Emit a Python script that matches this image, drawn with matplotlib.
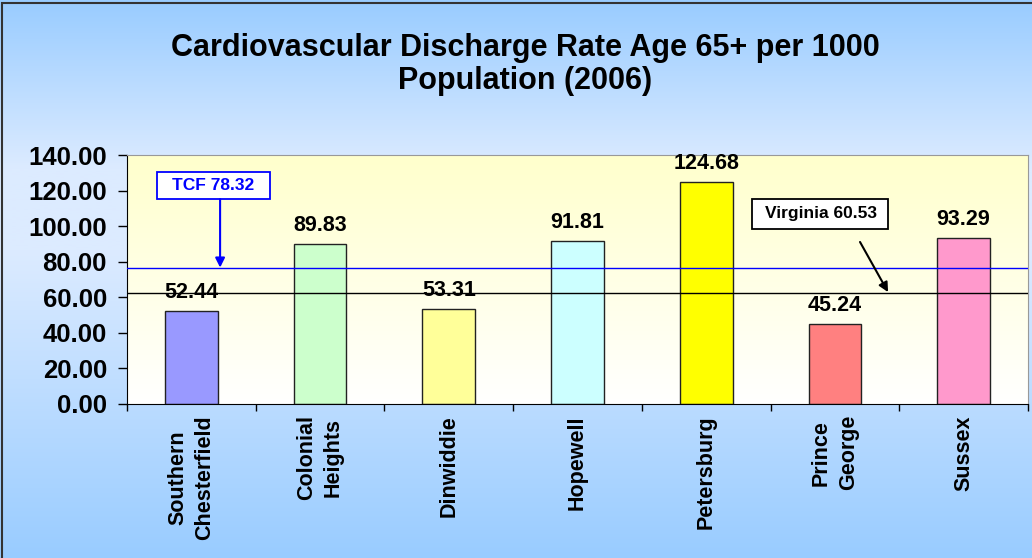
import matplotlib.pyplot as plt
import numpy as np
from matplotlib.colors import LinearSegmentedColormap
from matplotlib.patches import Rectangle

# Data
categories = ['Southern\nChesterfield', 'Colonial\nHeights', 'Dinwiddie', 'Hopewell',
              'Petersburg', 'Prince\nGeorge', 'Sussex']
rates = [52.44, 89.83, 53.31, 91.81, 124.68, 45.24, 93.29]
bar_colors = ['#9999ff', '#ccffcc', '#ffff99', '#ccffff', '#ffff00', '#ff8080', '#ff99cc']
tcf_line = 76.7
va_line = 62.6
tcf_label = 'TCF 78.32'
va_label = 'Virginia 60.53'
yticks = [0, 20, 40, 60, 80, 100, 120, 140]

fig = plt.figure(figsize=(10.32, 5.58), dpi=100)

# figure background gradient
bg = fig.add_axes([0, 0, 1, 1], zorder=-10)
bg_cmap = LinearSegmentedColormap.from_list(
    'bg', [(0.0, '#99ccff'), (0.30, '#dcebff'), (0.45, '#dcebff'), (1.0, '#99ccff')])
bg.imshow(np.linspace(0, 1, 256).reshape(-1, 1), aspect='auto', cmap=bg_cmap,
          extent=[0, 1, 0, 1], origin='upper')
bg.set_axis_off()
fig.patches.append(Rectangle((0.002, -0.01), 1.1, 1.004, transform=fig.transFigure,
                             fill=False, edgecolor='#333333', linewidth=1.5))

ax = fig.add_axes([0.1231, 0.276, 0.8730, 0.4462])
x = np.arange(len(categories))

# plot area gradient
ax_cmap = LinearSegmentedColormap.from_list('pa', ['#ffffcc', '#ffffff'])
ax.imshow(np.linspace(0, 1, 256).reshape(-1, 1), aspect='auto', cmap=ax_cmap,
          extent=[-0.5, len(categories) - 0.5, 0, 140], origin='upper', zorder=0)

ax.bar(x, rates, width=0.41, color=bar_colors, edgecolor='#222222', linewidth=1, zorder=2)
for xi, v in zip(x, rates):
    ax.text(xi, v + 4.5, f'{v:.2f}', ha='center', va='bottom', fontsize=15.5,
            fontweight='bold', family='Liberation Sans', zorder=4)

ax.axhline(tcf_line, color='#0000ff', linewidth=1, zorder=3)
ax.axhline(va_line, color='black', linewidth=1, zorder=3)

ax.set_xlim(-0.5, len(categories) - 0.5)
ax.set_ylim(0, 140)
ax.set_yticks(yticks)
ax.set_yticklabels([f'{t:.2f}' for t in yticks], fontsize=18.5, fontweight='bold',
                   family='Liberation Sans')
ax.set_xticks(x)
ax.set_xticklabels(categories, rotation=90, fontsize=15.5, fontweight='bold',
                   family='Liberation Sans', linespacing=1.35, va='top', ha='center')
ax.tick_params(axis='x', length=0, pad=8)
ax.set_xticks(np.arange(len(categories) + 1) - 0.5, minor=True)
ax.tick_params(axis='x', which='minor', length=5, direction='out', width=1)
ax.tick_params(axis='y', length=6.5, direction='out', width=1, pad=8)

for s in ['top', 'right']:
    ax.spines[s].set_color('#999999')
for s in ['left', 'bottom']:
    ax.spines[s].set_color('black')

# annotation boxes
ax.add_patch(Rectangle((-0.267, 115.2), 0.878, 15.2, fc='white', ec='#0000ff',
                       lw=1.3, zorder=5))
ax.text(0.172, 122.8, tcf_label, ha='center', va='center', fontsize=12.5,
        fontweight='bold', color='#0000ff', family='Liberation Sans', zorder=6)
ax.annotate('', xy=(0.223, tcf_line), xytext=(0.223, 115.2),
            arrowprops=dict(arrowstyle='-|>', color='#0000ff', lw=1.5,
                            shrinkA=0, shrinkB=0, mutation_scale=14), zorder=5)

ax.add_patch(Rectangle((4.356, 98.3), 1.057, 16.9, fc='white', ec='black',
                       lw=1.3, zorder=5))
ax.text(4.89, 106.9, va_label, ha='center', va='center', fontsize=12.5,
        fontweight='bold', family='Liberation Sans', zorder=6)
ax.annotate('', xy=(5.413, 62.9), xytext=(5.195, 91.1),
            arrowprops=dict(arrowstyle='-|>', color='black', lw=1.5,
                            shrinkA=0, shrinkB=0, mutation_scale=14), zorder=5)

fig.text(0.509, 0.884, 'Cardiovascular Discharge Rate Age 65+ per 1000\nPopulation (2006)',
         ha='center', va='center', fontsize=22, fontweight='bold',
         family='Liberation Sans', linespacing=1.15)

fig.savefig('out.png', dpi=100)
